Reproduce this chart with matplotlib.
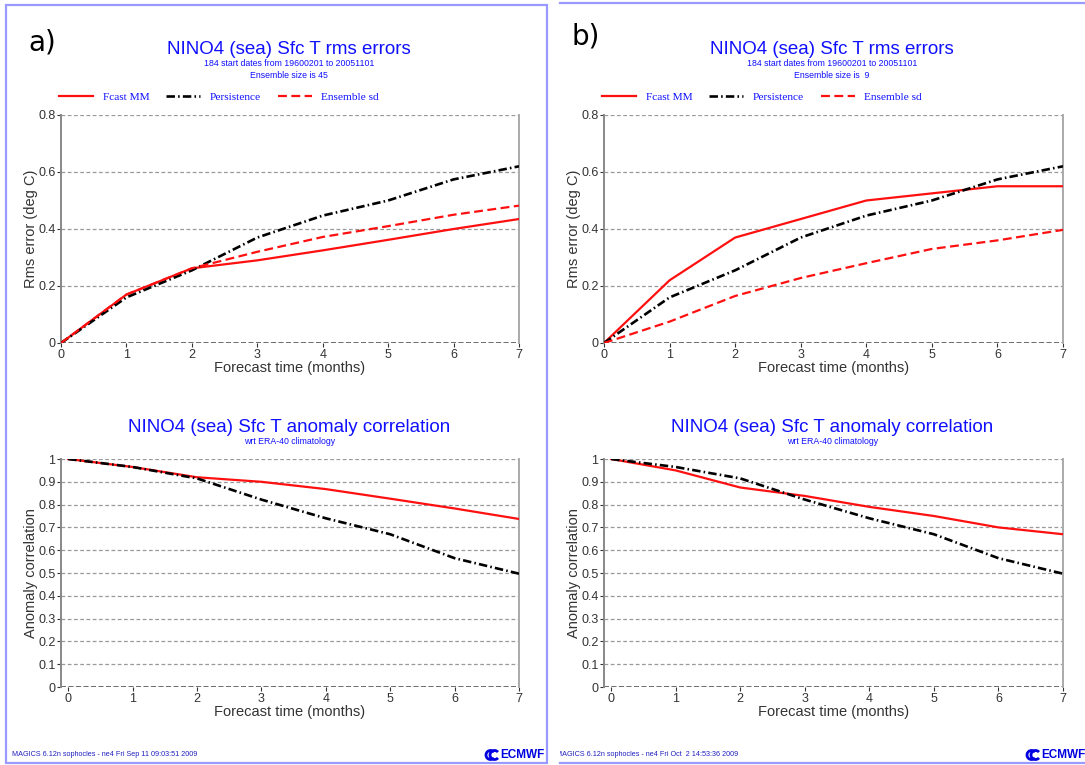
import matplotlib
matplotlib.use("Agg")
import matplotlib.pyplot as plt
from matplotlib.patches import Rectangle, Arc
from matplotlib.lines import Line2D
from matplotlib.transforms import Bbox, TransformedBbox

plt.rcParams['font.family'] = ['Liberation Sans', 'DejaVu Sans']

# forecast lead time (months)
months = [0, 1, 2, 3, 4, 5, 6, 7]

# rms errors (deg C)
rms_fcast_a = [0, 0.17, 0.262, 0.29, 0.325, 0.362, 0.40, 0.435]
rms_ens_a = [0, 0.17, 0.262, 0.32, 0.372, 0.41, 0.45, 0.482]
rms_fcast_b = [0, 0.22, 0.37, 0.435, 0.50, 0.525, 0.55, 0.55]
rms_ens_b = [0, 0.075, 0.165, 0.228, 0.28, 0.33, 0.36, 0.397]
rms_persist = [0, 0.16, 0.255, 0.37, 0.447, 0.50, 0.574, 0.62]

# anomaly correlation
acc_fcast_a = [1.0, 0.965, 0.92, 0.90, 0.868, 0.826, 0.783, 0.737]
acc_fcast_b = [1.0, 0.95, 0.875, 0.838, 0.79, 0.75, 0.70, 0.67]
acc_persist = [1.0, 0.965, 0.915, 0.822, 0.74, 0.67, 0.565, 0.497]

ens_size = {'a': 45, 'b': 9}
stamps = {'a': 'MAGICS 6.12n sophocles - ne4 Fri Sep 11 09:03:51 2009',
          'b': 'MAGICS 6.12n sophocles - ne4 Fri Oct  2 14:53:36 2009'}

W, H = 1085, 765
fig = plt.figure(figsize=(W / 100, H / 100), dpi=100)

BLUE = '#1010ff'
TXT = '#333333'
LOGO = '#0000e0'


def px_axes(x0, y0, x1, y1):
    return fig.add_axes([x0 / W, 1 - y1 / H, (x1 - x0) / W, (y1 - y0) / H])


def px_text(x, y, s, **kw):
    return fig.text(x / W, 1 - y / H, s, **kw)


def style_axes(ax, ymax, step, xmin):
    ax.set_xlim(xmin, 7)
    ax.set_ylim(0, ymax)
    ax.set_xticks(months)
    yt = [round(i * step, 2) for i in range(int(round(ymax / step)) + 1)]
    ax.set_yticks(yt)
    ax.set_yticklabels(['%g' % v for v in yt])
    for v in yt:
        ax.axhline(v, color='#999999', lw=0.9, ls=(0, (3, 2)), zorder=1)
    for s in ('left', 'right'):
        ax.spines[s].set_color('#aaaaaa')
        ax.spines[s].set_linewidth(1.4)
    ax.spines['left'].set_color('#888888')
    for s in ('top', 'bottom'):
        ax.spines[s].set_visible(False)
    ax.axhline(0, color='#555555', lw=1.2, ls=(0, (3, 1.5)), zorder=1)
    ax.tick_params(labelsize=9, colors=TXT, length=3, width=0.8, pad=1)
    ax.set_xlabel('Forecast time (months)', fontsize=10.5, color=TXT, labelpad=0)


def red(ax, y, **kw):
    return ax.plot(months, y, color='#ff1010', lw=1.6, zorder=3, **kw)[0]


def black(ax, y):
    return ax.plot(months, y, color='black', lw=1.9, zorder=3,
                   ls=(0, (3.2, 1.2, 0.6, 1.2)))[0]


def logo(x0, y):
    # two nested "C" marks followed by the name
    for dx, d in ((0, 9), (4, 9)):
        fig.add_artist(Arc(((x0 + dx + d / 2) / W, 1 - y / H), d / W, d / H,
                           theta1=50, theta2=310, transform=fig.transFigure,
                           color=LOGO, lw=2.0))
    px_text(x0 + 14, y, 'ECMWF', fontsize=8.5, weight='heavy', color=LOGO,
            va='center')


panels = [
    ('a', 0, rms_fcast_a, rms_ens_a, acc_fcast_a),
    ('b', 543, rms_fcast_b, rms_ens_b, acc_fcast_b),
]

for tag, dx, rf, re_, af in panels:
    right = 519 + dx + (1 if tag == 'b' else 0)

    # rms error panel
    ax1 = px_axes(61 + dx, 115, right, 343)
    style_axes(ax1, 0.8, 0.2, 0)
    h1 = red(ax1, rf)
    h2 = black(ax1, rms_persist)
    h3 = red(ax1, re_, ls=(0, (4, 2)))
    ax1.set_ylabel('Rms error (deg C)', fontsize=10.5, color=TXT, labelpad=0)

    cx = 289 + dx
    px_text(cx, 49, 'NINO4 (sea) Sfc T rms errors', fontsize=13.5, color=BLUE,
            ha='center', va='center')
    px_text(cx, 64, '184 start dates from 19600201 to 20051101', fontsize=6.3,
            color=BLUE, ha='center', va='center')
    px_text(cx, 76, 'Ensemble size is %2d' % ens_size[tag], fontsize=6.3,
            color=BLUE, ha='center', va='center')
    fig.legend([h1, h2, h3], ['Fcast MM', 'Persistence', 'Ensemble sd'],
               ncol=3, loc='center', frameon=False,
               bbox_to_anchor=((219 + dx) / W, 1 - 97 / H),
               prop={'family': 'Liberation Serif', 'size': 8.2},
               labelcolor=BLUE, handlelength=3.0, handletextpad=0.8,
               columnspacing=1.5, borderpad=0)

    # anomaly correlation panel
    ax2 = px_axes(61 + dx, 459, right, 687)
    style_axes(ax2, 1.0, 0.1, -0.11)
    red(ax2, af)
    black(ax2, acc_persist)
    ax2.set_ylabel('Anomaly correlation', fontsize=10.5, color=TXT, labelpad=0)

    px_text(cx, 427, 'NINO4 (sea) Sfc T anomaly correlation', fontsize=13.5,
            color=BLUE, ha='center', va='center')
    px_text(cx + 1, 442, 'wrt ERA-40 climatology', fontsize=6.3, color=BLUE,
            ha='center', va='center')

# panel letters
px_text(28, 42, 'a)', fontsize=20, family='DejaVu Sans', va='center')
px_text(571, 36, 'b)', fontsize=20, family='DejaVu Sans', va='center')

# footers
px_text(12, 755, stamps['a'], fontsize=5.2, color='#2020c0', va='center')
t = px_text(556, 755, stamps['b'], fontsize=5.2, color='#2020c0', va='center')
t.set_clip_box(TransformedBbox(Bbox([[560 / W, 0], [1, 1]]), fig.transFigure))
t.set_clip_on(True)
logo(486, 755)
logo(1027, 755)

# panel frames
fig.add_artist(Rectangle((6 / W, 1 - 763 / H), 541 / W, 758 / H,
                         transform=fig.transFigure, fill=False,
                         ec='#9a9aff', lw=1.6))
fig.add_artist(Line2D([560 / W, 1], [1 - 3 / H, 1 - 3 / H],
                      transform=fig.transFigure, color='#9a9aff', lw=1.6))
fig.add_artist(Line2D([560 / W, 1], [1 - 763 / H, 1 - 763 / H],
                      transform=fig.transFigure, color='#9a9aff', lw=1.6))

fig.savefig('out.png', dpi=100)
